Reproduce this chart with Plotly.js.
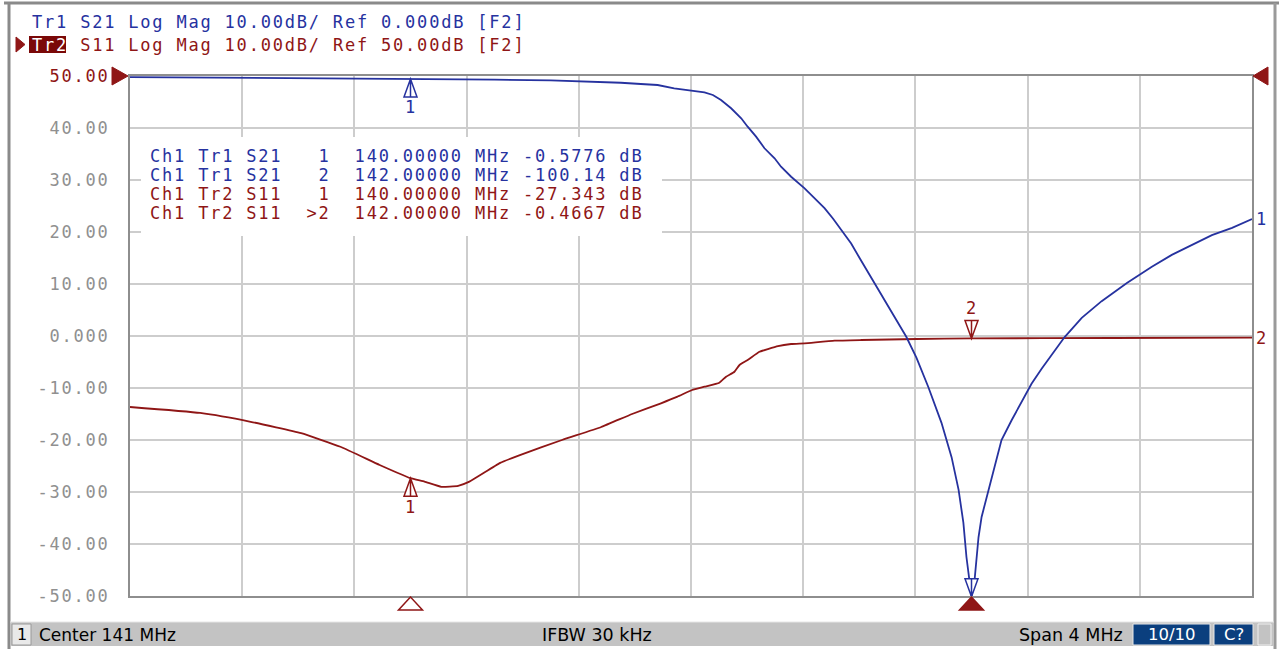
<!DOCTYPE html>
<html><head><meta charset="utf-8">
<script src="https://cdn.plot.ly/plotly-3.0.1.min.js"></script>
<style>
html,body{margin:0;padding:0;background:#fff;overflow:hidden;}
#chart{width:1279px;height:649px;}
text.annotation-text[style*="Mono"], .ytick text { letter-spacing: 1.8px; }
</style>
</head><body><div id="chart"></div>
<script>
// ---- data ----
const s21Freq = [139.0, 139.3, 139.6, 140.0, 140.3, 140.5, 140.65, 140.75, 140.821, 140.881, 140.94, 141.004, 141.048, 141.078, 141.107, 141.143, 141.161, 141.179, 141.202, 141.232, 141.262, 141.298, 141.321, 141.357, 141.405, 141.44, 141.476, 141.506, 141.536, 141.571, 141.601, 141.64, 141.679, 141.725, 141.768, 141.804, 141.846, 141.893, 141.929, 141.954, 141.971, 141.982, 141.993, 142.0, 142.011, 142.025, 142.036, 142.061, 142.089, 142.107, 142.143, 142.179, 142.214, 142.25, 142.286, 142.332, 142.393, 142.464, 142.554, 142.643, 142.714, 142.786, 142.857, 142.929, 143.0];
const s21dB   = [-0.2, -0.3, -0.45, -0.5776, -0.7, -0.85, -1.05, -1.3, -1.54, -1.73, -2.37, -2.83, -3.13, -3.65, -4.62, -6.21, -7.17, -8.13, -9.75, -11.67, -13.9, -15.83, -17.44, -19.37, -21.6, -23.5, -25.4, -27.4, -29.6, -32.2, -35.0, -38.5, -42.1, -46.3, -50.2, -54.2, -59.8, -66.7, -73.3, -79.6, -85.9, -92.5, -97.5, -100.14, -96.9, -88.7, -84.8, -79.6, -73.8, -70.0, -66.2, -62.5, -59.2, -56.3, -53.7, -50.2, -46.5, -43.3, -39.8, -36.7, -34.4, -32.5, -30.6, -29.2, -27.5];
const s11Freq = [139.0, 139.25, 139.43, 139.61, 139.75, 139.89, 140.0, 140.05, 140.11, 140.17, 140.21, 140.32, 140.39, 140.54, 140.68, 140.79, 140.893, 140.952, 141.004, 141.048, 141.101, 141.125, 141.155, 141.173, 141.202, 141.244, 141.274, 141.31, 141.357, 141.405, 141.512, 141.607, 141.804, 142.0, 142.5, 143.0];
const s11dB   = [-13.65, -14.8, -16.5, -18.7, -21.3, -24.8, -27.343, -28.0, -29.0, -28.8, -28.0, -24.4, -22.9, -20.0, -17.5, -15.0, -12.94, -11.67, -10.38, -9.75, -8.98, -7.83, -6.87, -5.58, -4.62, -3.04, -2.52, -1.94, -1.54, -1.4, -0.9, -0.77, -0.58, -0.4667, -0.38, -0.3];
const markerFreq = [140.0, 142.0];
const markerS21 = [-0.5776, -100.14];
const markerS11 = [-27.343, -0.4667];
const markerNames = ['1', '2'];
const readoutRows = [
  'Ch1 Tr1 S21   1  140.00000 MHz -0.5776 dB',
  'Ch1 Tr1 S21   2  142.00000 MHz -100.14 dB',
  'Ch1 Tr2 S11   1  140.00000 MHz -27.343 dB',
  'Ch1 Tr2 S11  >2  142.00000 MHz -0.4667 dB'
];
const yTickVals = [50, 40, 30, 20, 10, 0, -10, -20, -30, -40, -50];
const yTickText = ['50.00', '40.00', '30.00', '20.00', '10.00', '0.000', '-10.00', '-20.00', '-30.00', '-40.00', '-50.00'];

// ---- style ----
const BLUE = '#26329f', RED = '#8f1616', GRID = '#cdcdcd';
const MONO = 'DejaVu Sans Mono', SANS = 'DejaVu Sans';
const L = 130, R = 1252, T = 76, B = 596;
const PX = x => (x - L) / (R - L);
const PY = y => (B - y) / (B - T);

const traces = [
  {x: s11Freq, y: s11dB, type: 'scatter', mode: 'lines', line: {color: RED, width: 1.8, shape: 'spline', smoothing: 0.4}, yaxis: 'y', hoverinfo: 'skip'},
  {x: s21Freq, y: s21dB, type: 'scatter', mode: 'lines', line: {color: BLUE, width: 1.8}, yaxis: 'y2', hoverinfo: 'skip'}
];

const shapes = [];
const annotations = [];
function rectPx(x0, y0, x1, y1, fill, line, lw, layer) {
  shapes.push({type: 'rect', xref: 'paper', yref: 'paper', x0: PX(x0), x1: PX(x1), y0: PY(y0), y1: PY(y1),
    fillcolor: fill, line: {color: line || 'rgba(0,0,0,0)', width: lw || 0}, layer: layer || 'above'});
}
function pathPx(pts, fill, line) {
  const d = pts.map((p, i) => (i ? 'L' : 'M') + PX(p[0]) + ',' + PY(p[1])).join(' ') + ' Z';
  shapes.push({type: 'path', xref: 'paper', yref: 'paper', path: d, fillcolor: fill, line: {color: line || fill, width: 1}, layer: 'above'});
}
function textPx(x, y, text, opts) {
  annotations.push(Object.assign({xref: 'paper', yref: 'paper', x: PX(x), y: PY(y), text: text, showarrow: false,
    xanchor: 'left', yanchor: 'middle', align: 'left', font: {family: MONO, size: 17, color: '#000'}}, opts || {}));
}

// outer frame
shapes.push({type: 'line', xref: 'paper', yref: 'paper', x0: PX(4), x1: PX(1279), y0: PY(3), y1: PY(3), line: {color: '#8a8a8a', width: 3}, layer: 'above'});
shapes.push({type: 'line', xref: 'paper', yref: 'paper', x0: PX(9), x1: PX(9), y0: PY(3), y1: PY(649), line: {color: '#8a8a8a', width: 3}, layer: 'above'});
shapes.push({type: 'line', xref: 'paper', yref: 'paper', x0: PX(1275), x1: PX(1275), y0: PY(3), y1: PY(649), line: {color: '#9a9a9a', width: 3}, layer: 'above'});

// readout white box
rectPx(141, 137, 662, 236, '#ffffff', null, 0, 'above');

// header
textPx(30, 22, 'Tr1 S21 Log Mag 10.00dB/ Ref 0.000dB [F2]', {font: {family: MONO, size: 17, color: BLUE}});
pathPx([[16, 37], [25, 44.5], [16, 52]], RED);
rectPx(29, 36, 66, 53, '#7a0808', null, 0, 'above');
textPx(30, 44.5, '<span style="color:#ffffff">Tr2</span> S11 Log Mag 10.00dB/ Ref 50.00dB [F2]', {font: {family: MONO, size: 17, color: RED}});

// readout rows
const rowY = [156, 175, 194, 213];
readoutRows.forEach((r, i) => textPx(148, rowY[i], r.replace(/ /g, '&nbsp;'), {font: {family: MONO, size: 17, color: i < 2 ? BLUE : RED}}));

// reference position arrows
pathPx([[112, 67], [128, 76], [112, 85]], RED);
pathPx([[1268, 67], [1253, 76], [1268, 85]], RED);

// markers on traces (pixel-sized paths anchored at data points)
function markerShape(f, v, yref, color, up) {
  const p = up ? 'M0,0 L-6.5,-18 L6.5,-18 Z M0,0 L0,-18' : 'M0,0 L-6.5,18 L6.5,18 Z M0,0 L0,18';
  shapes.push({type: 'path', xref: 'x', yref: yref, xsizemode: 'pixel', ysizemode: 'pixel', xanchor: f, yanchor: v,
    path: p, fillcolor: '#ffffff', line: {color: color, width: 1.5}, layer: 'above'});
}
function markerLabel(f, v, yref, color, name, shift) {
  annotations.push({xref: 'x', yref: yref, x: f, y: v, yshift: shift, text: name, showarrow: false,
    xanchor: 'center', yanchor: 'middle', font: {family: MONO, size: 17, color: color}});
}
markerShape(markerFreq[0], markerS21[0], 'y2', BLUE, true);
markerLabel(markerFreq[0], markerS21[0], 'y2', BLUE, markerNames[0], -28);
markerShape(markerFreq[1], markerS21[1], 'y2', BLUE, false);
markerLabel(markerFreq[1], markerS21[1], 'y2', BLUE, markerNames[1], 32);
markerShape(markerFreq[0], markerS11[0], 'y', RED, true);
markerLabel(markerFreq[0], markerS11[0], 'y', RED, markerNames[0], -29);
markerShape(markerFreq[1], markerS11[1], 'y', RED, false);
markerLabel(markerFreq[1], markerS11[1], 'y', RED, markerNames[1], 30);

// stimulus markers under the grid
markerFreq.forEach((f, i) => {
  shapes.push({type: 'path', xref: 'x', yref: 'paper', xsizemode: 'pixel', ysizemode: 'pixel', xanchor: f, yanchor: 0,
    path: 'M0,-1 L-12,-14 L12,-14 Z', fillcolor: i === 1 ? RED : '#ffffff', line: {color: RED, width: 1.5}, layer: 'above'});
});

// trace end labels
annotations.push({xref: 'x', yref: 'y2', x: s21Freq[s21Freq.length - 1], y: s21dB[s21dB.length - 1], xshift: 2, text: '1', showarrow: false,
  xanchor: 'left', yanchor: 'middle', font: {family: MONO, size: 17, color: BLUE}});
annotations.push({xref: 'x', yref: 'y', x: s11Freq[s11Freq.length - 1], y: s11dB[s11dB.length - 1], xshift: 2, text: '2', showarrow: false,
  xanchor: 'left', yanchor: 'middle', font: {family: MONO, size: 17, color: RED}});

// status bar
rectPx(10, 622, 1274, 646, '#c3c3c3', null, 0, 'above');
shapes.push({type: 'line', xref: 'paper', yref: 'paper', x0: PX(10), x1: PX(1274), y0: PY(622), y1: PY(622), line: {color: '#e6e6e6', width: 1}, layer: 'above'});
rectPx(12, 624, 31, 645, '#e9e9e9', '#9a9a9a', 1, 'above');
textPx(21.5, 634.5, '1', {xanchor: 'center', font: {family: SANS, size: 16, color: '#000'}});
textPx(37, 634.5, 'Center 141 MHz', {font: {family: SANS, size: 17, color: '#000'}});
textPx(597, 634.5, 'IFBW 30 kHz', {xanchor: 'center', font: {family: SANS, size: 17.5, color: '#000'}});
textPx(1125, 634.5, 'Span 4 MHz', {xanchor: 'right', font: {family: SANS, size: 17.5, color: '#000'}});
rectPx(1133, 624, 1210, 645, '#0b3f7e', '#e8e8e8', 1, 'above');
textPx(1171.5, 634.5, '10/10', {xanchor: 'center', font: {family: SANS, size: 16.5, color: '#ffffff'}});
rectPx(1214, 624, 1253, 645, '#0b3f7e', '#e8e8e8', 1, 'above');
textPx(1233.5, 634.5, 'C?', {xanchor: 'center', font: {family: SANS, size: 16.5, color: '#ffffff'}});
rectPx(1258, 624, 1271, 645, '#c3c3c3', '#efefef', 1, 'above');

yTickText[0] = '<span style="color:' + RED + '">' + yTickText[0] + '</span>';

const layout = {
  width: 1279, height: 649,
  margin: {l: L, r: 1279 - R, t: T, b: 649 - B, pad: 0},
  paper_bgcolor: '#ffffff', plot_bgcolor: '#ffffff',
  showlegend: false,
  xaxis: {range: [139, 143], tick0: 139, dtick: 0.4, showticklabels: false, ticks: '',
    showgrid: true, gridcolor: GRID, gridwidth: 2, zeroline: false,
    showline: true, linecolor: '#8e8e8e', linewidth: 2, mirror: true, fixedrange: true},
  yaxis: {range: [-50, 50], tickvals: yTickVals, ticktext: yTickText, ticks: 'outside', ticklen: 15, tickcolor: 'rgba(0,0,0,0)',
    tickfont: {family: MONO, size: 17, color: '#909090'},
    showgrid: true, gridcolor: GRID, gridwidth: 2, zeroline: false,
    showline: true, linecolor: '#8e8e8e', linewidth: 2, mirror: true, fixedrange: true},
  yaxis2: {range: [-100, 0], overlaying: 'y', side: 'right', showgrid: false, showticklabels: false, ticks: '',
    zeroline: false, showline: false, fixedrange: true},
  shapes: shapes,
  annotations: annotations
};

Plotly.newPlot('chart', traces, layout, {staticPlot: true, displayModeBar: false});
</script>
</body></html>
